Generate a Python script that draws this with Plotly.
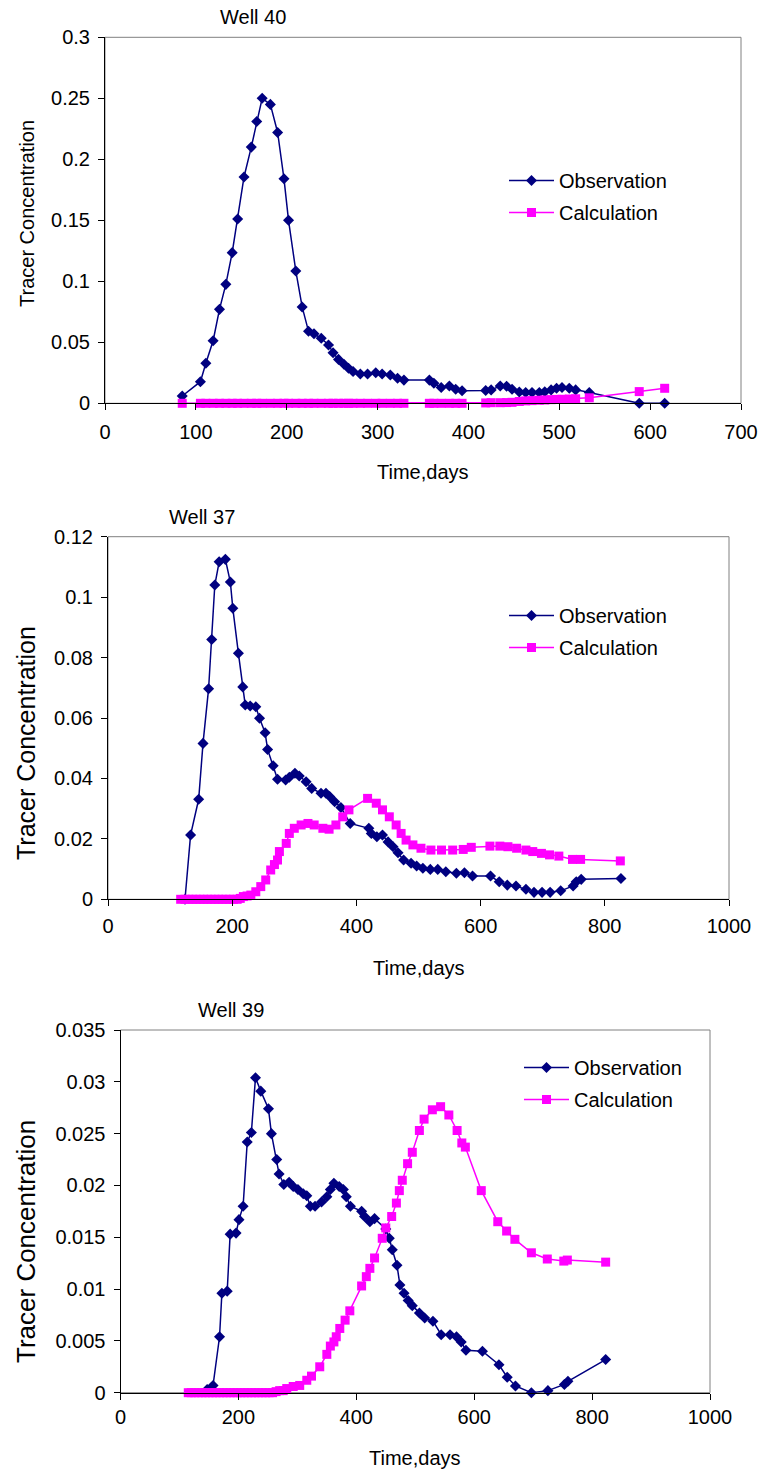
import plotly.graph_objects as go

W, H = 762, 1475
FONT = "Arial, 'Liberation Sans', sans-serif"
NAVY = "#000080"
MAGENTA = "#FF00FF"

# ---------------- Well 40 ----------------
w40_days = [85, 105, 111, 119, 126, 133, 140, 146, 153, 161, 167, 173, 182, 190, 197,
            202, 210, 217, 224, 230, 238, 246, 251, 257, 263, 268, 273, 281, 289, 298,
            305, 314, 322, 329, 357, 362, 370, 379, 386, 393, 419, 425, 435, 442, 448,
            456, 463, 470, 478, 484, 491, 497, 503, 511, 518, 533, 588, 616]
w40_obs = [0.006, 0.0177, 0.0328, 0.0513, 0.077, 0.0975, 0.1235, 0.151, 0.1855, 0.21,
           0.231, 0.25, 0.245, 0.222, 0.184, 0.15, 0.1085, 0.079, 0.059, 0.057,
           0.0533, 0.0478, 0.0415, 0.036, 0.032, 0.0287, 0.026, 0.024, 0.024, 0.025,
           0.024, 0.0232, 0.0205, 0.019, 0.019, 0.0164, 0.013, 0.0142, 0.0115, 0.0103,
           0.0105, 0.011, 0.0142, 0.014, 0.0115, 0.0093, 0.0088, 0.0088, 0.0088, 0.0095,
           0.011, 0.0123, 0.013, 0.0123, 0.011, 0.0088, 0.0, 0.0]
w40_calc = [0, 0, 0, 0, 0, 0, 0, 0, 0, 0, 0, 0, 0, 0, 0,
            0, 0, 0, 0, 0, 0, 0, 0, 0, 0, 0, 0, 0, 0, 0,
            0, 0, 0, 0, 0, 0, 0, 0, 0, 0, 0.0003, 0.0005, 0.0005, 0.0006, 0.0008,
            0.0015, 0.002, 0.0022, 0.0025, 0.0027, 0.003, 0.0032, 0.0033, 0.0035, 0.0037,
            0.0045, 0.0096, 0.0123]

# ---------------- Well 37 ----------------
w37_obs_days = [124, 133, 146, 153, 162, 167, 172, 179, 189, 197, 201, 210, 217, 221, 229,
                238, 244, 253, 257, 266, 273, 286, 292, 301, 308, 319, 328, 343, 351, 357,
                365, 375, 390, 420, 424, 433, 442, 451, 459, 467, 476, 488, 497, 507, 519,
                531, 544, 561, 574, 587, 616, 630, 643, 657, 673, 686, 699, 712, 729, 749,
                754, 762, 826]
w37_obs = [0.0, 0.0213, 0.0331, 0.0516, 0.0697, 0.086, 0.104, 0.1117, 0.1125, 0.105,
           0.0963, 0.0814, 0.0703, 0.0643, 0.064, 0.0637, 0.0599, 0.0551, 0.0496, 0.0442,
           0.0397, 0.0395, 0.0404, 0.0417, 0.0408, 0.0389, 0.0367, 0.0351, 0.0351, 0.034,
           0.0323, 0.0304, 0.0251, 0.0235, 0.0218, 0.0207, 0.0213, 0.019, 0.0174, 0.0154,
           0.013, 0.0119, 0.011, 0.0103, 0.0099, 0.0099, 0.0091, 0.0086, 0.0088, 0.0077,
           0.0077, 0.0058, 0.0047, 0.0044, 0.0033, 0.0023, 0.0023, 0.0023, 0.0028, 0.0044,
           0.0058, 0.0066, 0.0069]
w37_calc_days = [117, 124, 130, 136, 142, 148, 154, 160, 166, 172, 178, 184, 190, 196, 202,
                 208, 213, 218, 224, 230, 238, 246, 254, 262, 268, 273, 276, 287, 292, 300,
                 311, 322, 332, 346, 356, 367, 378, 388, 418, 432, 442, 453, 464, 472, 480,
                 491, 504, 520, 537, 555, 572, 585, 615, 631, 644, 658, 673, 684, 698, 711,
                 726, 748, 761, 825]
w37_calc = [0, 0, 0, 0, 0, 0, 0, 0, 0, 0, 0, 0, 0, 0, 0,
            0, 0.0003, 0.0009, 0.0011, 0.0014, 0.0025, 0.0042, 0.0064, 0.0097, 0.0115, 0.013,
            0.0158, 0.0185, 0.0218, 0.0235, 0.0246, 0.0251, 0.0246, 0.0235, 0.0232, 0.0246,
            0.0273, 0.0296, 0.0334, 0.0318, 0.0296, 0.0273, 0.0246, 0.0218, 0.0196, 0.018,
            0.0169, 0.0163, 0.0163, 0.0163, 0.0165, 0.0172, 0.0176, 0.0176, 0.0174, 0.0169,
            0.0163, 0.0158, 0.0152, 0.0147, 0.0143, 0.0132, 0.0132, 0.0127]

# ---------------- Well 39 ----------------
w39_obs_days = [147, 157, 168, 172, 181, 186, 196, 201, 208, 215, 222, 229, 238, 251, 256,
                265, 269, 277, 286, 293, 301, 310, 316, 322, 330, 341, 350, 356, 362, 371,
                378, 383, 390, 409, 414, 423, 431, 450, 456, 461, 469, 474, 481, 488, 495,
                507, 516, 530, 544, 559, 570, 578, 586, 614, 642, 656, 670, 697, 725, 753,
                759, 823]
w39_obs = [0.0003, 0.0007, 0.0054, 0.0096, 0.0098, 0.0153, 0.0154, 0.0167, 0.018, 0.0242,
           0.0251, 0.0304, 0.0291, 0.0274, 0.025, 0.0225, 0.0211, 0.0201, 0.0203, 0.0199,
           0.0196, 0.0192, 0.019, 0.018, 0.018, 0.0184, 0.0189, 0.0196, 0.0202, 0.0199,
           0.0196, 0.0189, 0.018, 0.0175, 0.017, 0.0165, 0.0168, 0.0158, 0.0149, 0.0138,
           0.0123, 0.0104, 0.0096, 0.0089, 0.0084, 0.0077, 0.0072, 0.0069, 0.0056, 0.0056,
           0.0054, 0.0049, 0.0041, 0.004, 0.0027, 0.0015, 0.00065, 0.0, 0.0002, 0.0008,
           0.0011, 0.0032]
w39_calc_days = [115, 120, 126, 132, 138, 144, 150, 156, 162, 168, 174, 180, 186, 192, 198,
                 204, 210, 216, 222, 228, 234, 240, 246, 252, 258, 264, 270, 276, 282, 293,
                 304, 316, 324, 338, 350, 356, 362, 366, 372, 381, 389, 409, 417, 423, 431,
                 444, 450, 460, 468, 473, 478, 487, 495, 507, 515, 529, 543, 557, 571, 579,
                 585, 612, 640, 655, 669, 697, 724, 752, 758, 823]
w39_calc = [0, 0, 0, 0, 0, 0, 0, 0, 0, 0, 0, 0, 0, 0, 0,
            0, 0, 0, 0, 0, 0, 0, 0, 0, 0, 0.0001, 0.0002, 0.0002, 0.0004, 0.0006,
            0.0007, 0.0012, 0.0016, 0.0025, 0.0037, 0.0045, 0.0049, 0.0054, 0.0062, 0.007,
            0.0079, 0.0103, 0.0112, 0.012, 0.013, 0.0149, 0.0159, 0.017, 0.0183, 0.0195,
            0.0205, 0.0221, 0.0232, 0.0253, 0.0264, 0.0273, 0.0276, 0.0268, 0.0253, 0.0241,
            0.0237, 0.0195, 0.0165, 0.0156, 0.0148, 0.0135, 0.0129, 0.0127, 0.0128, 0.0126]

# ---------------- Tick labels ----------------
w40_xticks = [0, 100, 200, 300, 400, 500, 600, 700]
w40_yticks = [0, 0.05, 0.1, 0.15, 0.2, 0.25, 0.3]
w40_ylabels = ["0", "0.05", "0.1", "0.15", "0.2", "0.25", "0.3"]
w37_xticks = [0, 200, 400, 600, 800, 1000]
w37_yticks = [0, 0.02, 0.04, 0.06, 0.08, 0.1, 0.12]
w37_ylabels = ["0", "0.02", "0.04", "0.06", "0.08", "0.1", "0.12"]
w39_xticks = [0, 200, 400, 600, 800, 1000]
w39_yticks = [0, 0.005, 0.01, 0.015, 0.02, 0.025, 0.03, 0.035]
w39_ylabels = ["0", "0.005", "0.01", "0.015", "0.02", "0.025", "0.03", "0.035"]

series_names = ["Observation", "Calculation"]
well_titles = ["Well 40", "Well 37", "Well 39"]
x_title = "Time,days"
y_title = "Tracer Concentration"

# pixel layout of each panel: plot box, title, legend, axis-title placement
panels = [
    dict(box=(105, 37.3, 741, 403.3), xt=w40_xticks, yt=w40_yticks, yl=w40_ylabels,
         title_xy=(253, 17), legend_xy=(504, 161), ytitle_xy=(27, 214), ytitle_size=20,
         xtitle_y=472, xstand=5, obs=(w40_days, w40_obs), calc=(w40_days, w40_calc)),
    dict(box=(108, 536.7, 729, 899.3), xt=w37_xticks, yt=w37_yticks, yl=w37_ylabels,
         title_xy=(202, 517), legend_xy=(504, 596), ytitle_xy=(26, 743), ytitle_size=25,
         xtitle_y=968, xstand=3, obs=(w37_obs_days, w37_obs), calc=(w37_calc_days, w37_calc)),
    dict(box=(120.5, 1030, 710, 1392.7), xt=w39_xticks, yt=w39_yticks, yl=w39_ylabels,
         title_xy=(231, 1010), legend_xy=(519, 1048), ytitle_xy=(26, 1242), ytitle_size=26,
         xtitle_y=1458, xstand=0, obs=(w39_obs_days, w39_obs), calc=(w39_calc_days, w39_calc)),
]


def px_x(v):
    return v / W


def px_y(v):
    return 1 - v / H


fig = go.Figure()
layout = dict(
    width=W, height=H, margin=dict(l=0, r=0, t=0, b=0, pad=0, autoexpand=False),
    paper_bgcolor="white", plot_bgcolor="white",
    font=dict(family=FONT, size=20, color="black"),
    showlegend=True, shapes=[], annotations=[],
)

for i, p in enumerate(panels):
    n = "" if i == 0 else str(i + 1)
    xa, ya = "x" + n, "y" + n
    lg = "legend" + n
    left, top, right, bottom = p["box"]

    fig.add_trace(go.Scatter(
        x=p["obs"][0], y=p["obs"][1], name=series_names[0], mode="lines+markers",
        line=dict(color=NAVY, width=1.5),
        marker=dict(symbol="diamond", size=8.5, color=NAVY),
        xaxis=xa, yaxis=ya, legend=lg, legendgroup=f"obs{i}", cliponaxis=False))
    fig.add_trace(go.Scatter(
        x=p["calc"][0], y=p["calc"][1], name=series_names[1], mode="lines+markers",
        line=dict(color=MAGENTA, width=1.5),
        marker=dict(symbol="square", size=9, color=MAGENTA),
        xaxis=xa, yaxis=ya, legend=lg, legendgroup=f"calc{i}", cliponaxis=False))

    layout["xaxis" + n] = dict(
        domain=[px_x(left), px_x(right)], anchor=ya, range=[0, p["xt"][-1]],
        tickmode="array", tickvals=p["xt"], ticktext=[str(v) for v in p["xt"]],
        ticks="outside", ticklen=6, tickcolor="black", tickwidth=1, automargin=False,
        showline=True, linecolor="black", linewidth=1, showgrid=False, zeroline=False,
        ticklabelstandoff=p["xstand"], tickfont=dict(size=20, family=FONT))
    layout["yaxis" + n] = dict(
        domain=[px_y(bottom), px_y(top)], anchor=xa, range=[0, p["yt"][-1]],
        tickmode="array", tickvals=p["yt"], ticktext=p["yl"],
        ticks="outside", ticklen=6, tickcolor="black", tickwidth=1, automargin=False,
        showline=True, linecolor="black", linewidth=1, showgrid=False, zeroline=False,
        ticklabelstandoff=4, tickfont=dict(size=20, family=FONT))

    # grey frame around the plot area
    layout["shapes"].append(dict(
        type="rect", xref=xa + " domain", yref=ya + " domain", x0=0, x1=1, y0=0, y1=1,
        line=dict(color="#808080", width=1), layer="below"))

    layout[lg] = dict(
        x=px_x(p["legend_xy"][0]), y=px_y(p["legend_xy"][1]), xanchor="left", yanchor="top",
        bgcolor="rgba(0,0,0,0)", borderwidth=0, font=dict(size=20, family=FONT),
        traceorder="grouped", tracegroupgap=3, itemwidth=45)

    layout["annotations"] += [
        dict(text=well_titles[i], xref="paper", yref="paper", x=px_x(p["title_xy"][0]),
             y=px_y(p["title_xy"][1]), xanchor="center", yanchor="middle", showarrow=False,
             font=dict(size=20, family=FONT)),
        dict(text=y_title, xref="paper", yref="paper", x=px_x(p["ytitle_xy"][0]),
             y=px_y(p["ytitle_xy"][1]), xanchor="center", yanchor="middle", showarrow=False,
             textangle=-90, font=dict(size=p["ytitle_size"], family=FONT)),
        dict(text=x_title, xref="paper", yref="paper", x=px_x((left + right) / 2),
             y=px_y(p["xtitle_y"]), xanchor="center", yanchor="middle", showarrow=False,
             font=dict(size=20, family=FONT)),
    ]

fig.update_layout(**layout)
fig.write_html("out.html")
